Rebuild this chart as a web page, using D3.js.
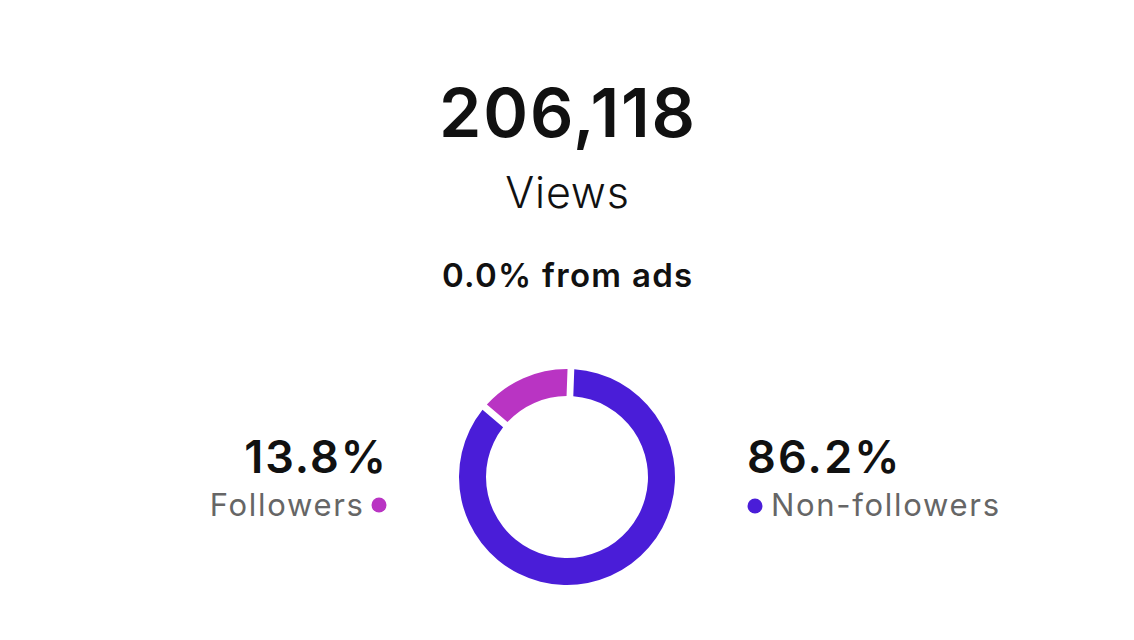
<!DOCTYPE html>
<html>
<head>
<meta charset="utf-8">
<script src="https://cdn.jsdelivr.net/npm/d3@7"></script>
<style>
  body { margin: 0; background: #fff; }
  text { font-family: Inter, "Noto Sans", sans-serif; }
</style>
</head>
<body>
<div id="viz"></div>
<script>
// headline numbers
const totalViews = 206118;
const adsShare = 0.0;
const labels = ["Followers", "Non-followers"];
const shares = [13.8, 86.2];
const colors = ["#B934C3", "#4A1DD8"];

const width = 1134, height = 640;
const cx = 567, cy = 477;

const svg = d3.select("#viz").append("svg")
    .attr("width", width)
    .attr("height", height);

svg.append("text")
    .attr("x", cx + 1).attr("y", 137)
    .attr("text-anchor", "middle")
    .attr("font-size", 68).attr("font-weight", 600)
    .attr("letter-spacing", 1.8)
    .attr("fill", "#111")
    .text(d3.format(",")(totalViews));

svg.append("text")
    .attr("x", cx + 0.5).attr("y", 208)
    .attr("text-anchor", "middle")
    .attr("font-size", 43).attr("font-weight", 300)
    .attr("letter-spacing", 0.8)
    .attr("fill", "#111")
    .text("Views");

svg.append("text")
    .attr("x", cx + 0.7).attr("y", 287)
    .attr("text-anchor", "middle")
    .attr("font-size", 33).attr("font-weight", 600)
    .attr("letter-spacing", 1.3)
    .attr("fill", "#111")
    .text(d3.format(".1f")(adsShare) + "% from ads");

// donut: followers sit just left of 12 o'clock, going counter-clockwise
const pie = d3.pie().sort(null).value(d => d)
    .startAngle(-2 * Math.PI * shares[0] / 100)
    .endAngle(2 * Math.PI - 2 * Math.PI * shares[0] / 100)
    .padAngle(0.05);

const arc = d3.arc().innerRadius(81).outerRadius(108);

svg.append("g")
    .attr("transform", `translate(${cx},${cy})`)
    .selectAll("path")
    .data(pie(shares))
    .join("path")
    .attr("d", arc)
    .attr("fill", (d, i) => colors[i]);

// left label (followers)
svg.append("text")
    .attr("x", 388).attr("y", 473)
    .attr("text-anchor", "end")
    .attr("font-size", 45).attr("font-weight", 600)
    .attr("letter-spacing", 2)
    .attr("fill", "#111")
    .text(shares[0].toFixed(1) + "%");
svg.append("text")
    .attr("x", 364.7).attr("y", 516)
    .attr("text-anchor", "end")
    .attr("font-size", 31)
    .attr("letter-spacing", 1.7)
    .attr("fill", "#666")
    .text(labels[0]);
svg.append("circle")
    .attr("cx", 379).attr("cy", 505).attr("r", 7.5)
    .attr("fill", colors[0]);

// right label (non-followers)
svg.append("text")
    .attr("x", 747).attr("y", 473)
    .attr("font-size", 45).attr("font-weight", 600)
    .attr("letter-spacing", 2.2)
    .attr("fill", "#111")
    .text(shares[1].toFixed(1) + "%");
svg.append("circle")
    .attr("cx", 755).attr("cy", 506).attr("r", 7.5)
    .attr("fill", colors[1]);
svg.append("text")
    .attr("x", 771).attr("y", 516)
    .attr("font-size", 31)
    .attr("letter-spacing", 1.7)
    .attr("fill", "#666")
    .text(labels[1]);
</script>
</body>
</html>
